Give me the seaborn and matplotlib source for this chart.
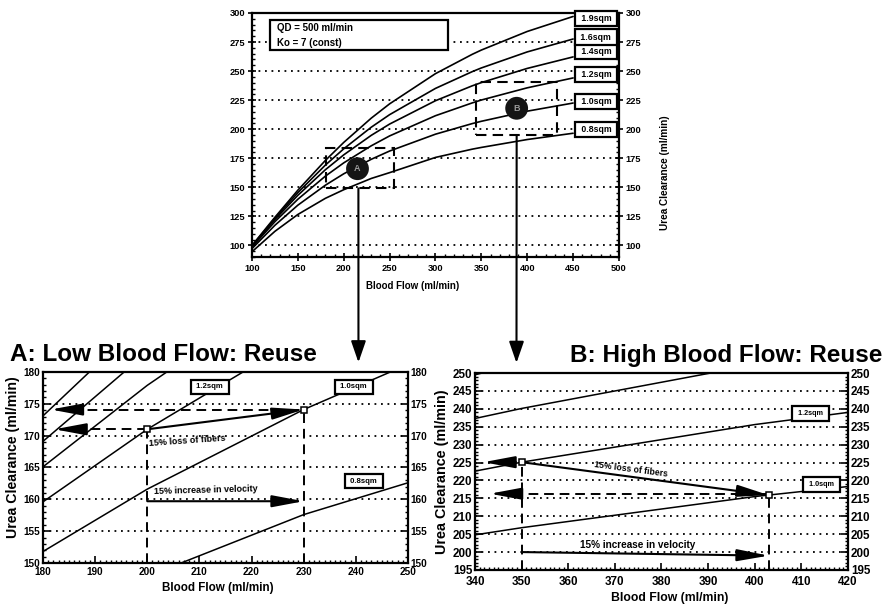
import numpy as np
import pandas as pd
import matplotlib
matplotlib.use("Agg")
import matplotlib.pyplot as plt
import seaborn as sns
from matplotlib.patches import Rectangle, FancyArrowPatch, ConnectionPatch
from matplotlib.ticker import MultipleLocator

# ---------------------------------------------------------------------------
# Urea clearance (ml/min) versus blood flow (ml/min), QD = 500 ml/min
# ---------------------------------------------------------------------------
blood_flow = [100, 125, 150, 180, 200, 230, 250, 300, 340, 350, 400, 450]
area_labels = ["0.8sqm", "1.0sqm", "1.2sqm", "1.4sqm", "1.6sqm", "1.9sqm"]
clear_08 = [94.5, 112.1, 126.6, 140.5, 147.9, 157.6, 162.6, 175.7, 182.8, 184.3, 191.1, 196.5]
clear_10 = [97.2, 117.3, 134.6, 151.8, 161.6, 174.1, 181.2, 195.7, 204.8, 206.8, 215.5, 222.5]
clear_12 = [98.6, 120.4, 139.7, 159.6, 171.0, 185.7, 194.2, 211.6, 222.6, 225.1, 235.6, 244.1]
clear_14 = [99.3, 122.2, 143.1, 165.1, 177.9, 194.7, 204.4, 224.5, 237.3, 240.1, 252.3, 262.2]
clear_16 = [99.6, 123.3, 145.4, 169.1, 183.1, 201.7, 212.5, 235.1, 249.5, 252.7, 266.5, 277.6]
clear_19 = [99.9, 124.2, 147.5, 173.1, 188.6, 209.5, 221.8, 247.8, 264.4, 268.1, 284.1, 297.0]
curve_values = [clear_08, clear_10, clear_12, clear_14, clear_16, clear_19]

# curve-end tags in the overview chart
tag_y_top = [200.0, 224.2, 246.7, 266.5, 279.3, 295.0]

# low-flow reuse case (panel A)
low_flow = [200, 230]
low_clear = [171.0, 174.1]
low_velocity_y = 159.7
low_left_tips = [181.5, 182.2]
low_left_y = [174.1, 171.0]
low_tags = ["1.2sqm", "1.0sqm", "0.8sqm"]
low_tag_x = [212.0, 239.6, 241.5]
low_tag_y = [177.7, 177.7, 162.8]

# high-flow reuse case (panel B)
high_flow = [350, 403]
high_clear = [225.1, 215.9]
high_velocity_y = [200.0, 199.0]
high_left_tips = [341.8, 343.2]
high_left_y = [225.1, 216.3]
high_tags = ["1.2sqm", "1.0sqm"]
high_tag_x = [412.0, 414.3]
high_tag_y = [238.7, 218.8]

# zoom windows and operating points marked on the overview chart
zoom_low = (181, 149, 255, 184)
zoom_high = (344, 195, 433, 241)
point_x = [215, 388.5]
point_y = [166, 218]
point_tags = ["A", "B"]

df = pd.DataFrame(
    [(a, x, y) for a, ys in zip(area_labels, curve_values) for x, y in zip(blood_flow, ys)],
    columns=["area", "flow", "clearance"],
)

sns.set_theme(style="white")
plt.rcParams["font.family"] = ["Liberation Sans", "DejaVu Sans"]
plt.rcParams["font.weight"] = "bold"
plt.rcParams["axes.labelweight"] = "bold"
for key in ("text.color", "axes.labelcolor", "xtick.color", "ytick.color",
            "axes.edgecolor"):
    plt.rcParams[key] = "black"

fig = plt.figure(figsize=(8.86, 6.07), dpi=100)
ax_top = fig.add_axes([0.2844, 0.5766, 0.4142, 0.4020])
ax_a = fig.add_axes([0.0485, 0.0725, 0.4120, 0.3147])
ax_b = fig.add_axes([0.5361, 0.0610, 0.4210, 0.3245])

DOT = (0, (1, 2.6))
DASH = (0, (5, 3))


def draw_curves(ax, lw):
    sns.lineplot(data=df, x="flow", y="clearance", hue="area", estimator=None,
                 palette=["black"] * len(area_labels), legend=False, ax=ax,
                 linewidth=lw, zorder=3)


def style_axes(ax, xlim, ylim, xmaj, xmin, ymaj, ymin, fs, gridlines, xpad=2):
    ax.set_xlim(*xlim)
    ax.set_ylim(*ylim)
    ax.xaxis.set_major_locator(MultipleLocator(xmaj))
    ax.xaxis.set_minor_locator(MultipleLocator(xmin))
    ax.yaxis.set_major_locator(MultipleLocator(ymaj))
    ax.yaxis.set_minor_locator(MultipleLocator(ymin))
    ax.tick_params(which="both", direction="in", left=True, right=True,
                   bottom=True, top=False, labelright=True, colors="black")
    ax.tick_params(which="major", length=5, width=1.2, labelsize=fs, pad=2)
    ax.tick_params(axis="x", which="major", pad=xpad)
    ax.tick_params(which="minor", length=2.5, width=1.0)
    for y in gridlines:
        ax.axhline(y, color="black", lw=1.3, ls=DOT, zorder=1)
    for s in ax.spines.values():
        s.set_linewidth(1.6)
        s.set_color("black")
    ax.set_xlabel("")
    ax.set_ylabel("")
    ax.set_facecolor("white")


def head_arrow(ax, start, end, scale=12, lw=1.5, hl=1.6, hw=0.3):
    ax.add_patch(FancyArrowPatch(start, end,
                                 arrowstyle=f"-|>,head_length={hl},head_width={hw}",
                                 mutation_scale=scale, lw=lw, color="black",
                                 shrinkA=0, shrinkB=0, zorder=6))


def tag(ax, x, y, text, fs, pad=0.35, lw=1.6):
    ax.text(x, y, f" {text} ", fontsize=fs, ha="center", va="center", zorder=7,
            bbox=dict(boxstyle=f"square,pad={pad}", fc="white", ec="black", lw=lw))


# ---------------- overview chart ----------------
draw_curves(ax_top, 1.2)
style_axes(ax_top, (100, 500), (90, 300), 50, 10, 25, 5, 6.7,
           [100, 125, 150, 175, 200, 225, 250, 275])
ax_top.tick_params(which="major", direction="inout", length=6)

for lab, yv in zip(area_labels, tag_y_top):
    tag(ax_top, 475, yv, lab, 6.3)

ax_top.add_patch(Rectangle((119.6, 268.2), 194, 25.8, fc="white", ec="black",
                           lw=1.6, zorder=5))
ax_top.text(127, 287.1, "QD = 500 ml/min", fontsize=7, va="center", zorder=6)
ax_top.text(127, 274.2, "Ko = 7 (const)", fontsize=7, va="center", zorder=6)

for (x0, y0, x1, y1) in (zoom_low, zoom_high):
    ax_top.add_patch(Rectangle((x0, y0), x1 - x0, y1 - y0, fill=False,
                               ec="black", lw=1.5, ls=DASH, zorder=4))

ax_top.scatter(point_x, point_y, s=270, color="#141414", zorder=6, edgecolor="none")
for px, py, pt in zip(point_x, point_y, point_tags):
    ax_top.text(px, py, pt, fontsize=6.5, color="#9a9a9a", ha="center",
                va="center", zorder=7)

fig.text(413 / 886, 1 - 286 / 607, "Blood Flow (ml/min)", ha="center",
         va="center", fontsize=7)
fig.text(665 / 886, 1 - 173 / 607, "Urea Clearance (ml/min)", ha="center",
         va="center", rotation=90, fontsize=7.2)

# ---------------- panel A: low blood flow ----------------
draw_curves(ax_a, 1.1)
style_axes(ax_a, (180, 250), (150, 180), 10, 1, 5, 1, 7.2,
           [155, 160, 165, 170, 175], xpad=3)

for fx, cy in zip(low_flow, low_clear):
    ax_a.plot([fx, fx], [150, cy], color="black", lw=1.4, ls=DASH, zorder=4)
for tip, yv, fx in zip(low_left_tips, low_left_y, low_flow[::-1]):
    ax_a.plot([tip + 4, fx], [yv, yv], color="black", lw=1.4, ls=DASH, zorder=4)
    head_arrow(ax_a, (tip + 5.2, yv), (tip, yv))
head_arrow(ax_a, (low_flow[0], low_clear[0]), (low_flow[1], low_clear[1]))
head_arrow(ax_a, (low_flow[0], low_velocity_y), (low_flow[1], low_velocity_y))
ax_a.plot(low_flow, low_clear, "s", ms=4.5, mfc="white", mec="black", mew=1.1, zorder=8)

ax_a.text(200.3, 169.2, "15% loss of fibers", fontsize=6.5, rotation=4,
          ha="left", va="center", zorder=6)
ax_a.text(201.3, 161.4, "15% increase in velocity", fontsize=6.5, rotation=1.5,
          ha="left", va="center", zorder=6)
for lab, tx, ty in zip(low_tags, low_tag_x, low_tag_y):
    tag(ax_a, tx, ty, lab, 5.6, pad=0.45)

fig.text(10 / 886, 1 - 361 / 607, "A: Low Blood Flow: Reuse", fontsize=17.5,
         ha="left", va="baseline")
fig.text(218 / 886, 1 - 588 / 607, "Blood Flow (ml/min)", ha="center",
         va="center", fontsize=8.4)
fig.text(13 / 886, 1 - 457 / 607, "Urea Clearance (ml/min)", ha="center",
         va="center", rotation=90, fontsize=10.2)

# ---------------- panel B: high blood flow ----------------
draw_curves(ax_b, 1.1)
style_axes(ax_b, (340, 420), (195, 250), 10, 1, 5, 1, 8.4,
           [200, 205, 210, 215, 220, 225, 230, 235, 240, 245], xpad=4)

for fx, cy in zip(high_flow, high_clear):
    ax_b.plot([fx, fx], [195, cy], color="black", lw=1.4, ls=DASH, zorder=4)
for tip, yv in zip(high_left_tips, high_left_y):
    end_x = high_flow[0] if yv > 220 else high_flow[1]
    ax_b.plot([tip + 5, end_x], [yv, yv], color="black", lw=1.4, ls=DASH, zorder=4)
    head_arrow(ax_b, (tip + 6.0, yv), (tip, yv))
head_arrow(ax_b, (high_flow[0], high_clear[0]), (high_flow[1], high_clear[1]))
head_arrow(ax_b, (high_flow[0], high_velocity_y[0]), (high_flow[1], high_velocity_y[1]))
ax_b.plot(high_flow, high_clear, "s", ms=4.5, mfc="white", mec="black", mew=1.1, zorder=8)

ax_b.text(373.5, 223.2, "15% loss of fibers", fontsize=6.2, rotation=-7.5,
          ha="center", va="center", zorder=6)
ax_b.text(375, 202.0, "15% increase in velocity", fontsize=7.2,
          ha="center", va="center", zorder=6)
for lab, tx, ty in zip(high_tags, high_tag_x, high_tag_y):
    tag(ax_b, tx, ty, lab, 5.2, pad=0.55)

fig.text(570 / 886, 1 - 362 / 607, "B: High Blood Flow: Reuse", fontsize=17.5,
         ha="left", va="baseline")
fig.text(670 / 886, 1 - 598 / 607, "Blood Flow (ml/min)", ha="center",
         va="center", fontsize=8.8)
fig.text(442 / 886, 1 - 472 / 607, "Urea Clearance (ml/min)", ha="center",
         va="center", rotation=90, fontsize=10.4)

# ---------------- connectors from overview windows to panels ----------------
for (xa, ya), axb, (xb, yb) in (
    ((216, zoom_low[1]), ax_a, (240.5, 181.5)),
    ((388.5, zoom_high[1]), ax_b, (348.9, 252.8)),
):
    con = ConnectionPatch(xyA=(xa, ya), coordsA=ax_top.transData,
                          xyB=(xb, yb), coordsB=axb.transData,
                          arrowstyle="-|>,head_length=1.3,head_width=0.45",
                          mutation_scale=10, lw=1.5, color="black",
                          shrinkA=0, shrinkB=0, zorder=10)
    fig.add_artist(con)

fig.savefig("out.png", dpi=100, facecolor="white")
